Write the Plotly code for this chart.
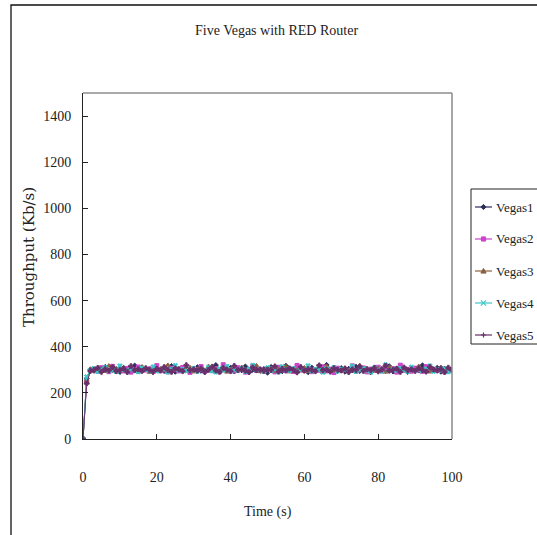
import plotly.graph_objects as go

# Throughput of five TCP Vegas flows sharing a RED router, sampled once per second
time_s = list(range(0, 101))

vegas1 = [
    0, 262, 301, 296, 305, 298, 312, 294, 300, 303,
    291, 308, 299, 296, 318, 293, 301, 304, 297, 290,
    310, 302, 295, 299, 316, 292, 303, 298, 306, 294,
    300, 311, 296, 289, 304, 299, 320, 295, 301, 297,
    308, 293, 302, 298, 314, 291, 300, 305, 296, 303,
    288, 312, 299, 301, 294, 317, 298, 302, 295, 306,
    300, 290, 309, 297, 303, 299, 321, 294, 300, 296,
    307, 292, 304, 298, 313, 295, 301, 299, 290, 310,
    297, 303, 296, 315, 293, 302, 298, 306, 291, 300,
    304, 297, 319, 294, 301, 299, 308, 292, 303, 296,
    300,
]
vegas2 = [
    0, 248, 297, 303, 294, 309, 299, 292, 315, 298,
    302, 295, 306, 290, 301, 312, 297, 299, 304, 293,
    318, 296, 300, 291, 307, 302, 295, 310, 298, 289,
    303, 299, 314, 294, 301, 296, 305, 292, 322, 298,
    300, 295, 309, 303, 290, 299, 316, 297, 302, 294,
    306, 298, 291, 311, 300, 296, 304, 293, 319, 299,
    297, 305, 292, 301, 298, 313, 295, 303, 288, 307,
    299, 302, 296, 317, 294, 300, 308, 291, 303, 298,
    311, 295, 301, 297, 305, 290, 320, 298, 302, 294,
    307, 299, 293, 314, 296, 301, 298, 305, 292, 302,
    299,
]
vegas3 = [
    0, 255, 304, 295, 300, 307, 293, 318, 297, 301,
    296, 310, 292, 303, 299, 294, 314, 300, 289, 305,
    298, 302, 297, 321, 293, 301, 306, 295, 299, 311,
    291, 304, 298, 300, 316, 294, 302, 297, 308, 290,
    303, 299, 295, 312, 301, 296, 304, 319, 292, 300,
    297, 307, 294, 302, 298, 315, 291, 303, 299, 296,
    310, 293, 301, 298, 305, 289, 317, 300, 296, 303,
    294, 309, 299, 301, 292, 320, 297, 304, 298, 295,
    306, 300, 290, 313, 296, 302, 299, 308, 293, 301,
    297, 316, 295, 303, 291, 305, 299, 312, 294, 300,
    302,
]
vegas4 = [
    0, 270, 298, 306, 293, 301, 310, 296, 299, 292,
    317, 300, 295, 303, 298, 291, 308, 302, 296, 313,
    294, 299, 305, 290, 301, 319, 297, 303, 295, 300,
    307, 293, 302, 298, 311, 296, 290, 304, 299, 315,
    295, 301, 297, 306, 292, 303, 320, 298, 300, 294,
    309, 296, 302, 291, 314, 299, 297, 305, 293, 301,
    298, 318, 295, 302, 300, 289, 306, 297, 311, 294,
    303, 299, 296, 316, 292, 301, 305, 298, 290, 309,
    300, 294, 322, 297, 303, 296, 307, 299, 292, 312,
    298, 301, 295, 304, 317, 293, 300, 297, 306, 291,
    301,
]
vegas5 = [
    0, 241, 295, 300, 308, 291, 303, 297, 311, 294,
    299, 305, 290, 316, 298, 302, 295, 307, 300, 293,
    304, 297, 312, 299, 291, 306, 301, 294, 320, 298,
    302, 296, 305, 293, 300, 313, 297, 291, 308, 301,
    294, 317, 299, 303, 296, 290, 310, 298, 302, 295,
    301, 299, 315, 292, 304, 297, 306, 300, 289, 312,
    296, 303, 299, 294, 319, 298, 301, 292, 307, 300,
    297, 305, 290, 302, 299, 314, 295, 303, 298, 308,
    293, 301, 318, 296, 300, 305, 291, 310, 298, 302,
    295, 306, 299, 292, 313, 301, 297, 304, 290, 309,
    298,
]

series_names = ["Vegas1", "Vegas2", "Vegas3", "Vegas4", "Vegas5"]
series_values = [vegas1, vegas2, vegas3, vegas4, vegas5]
series_colors = ["#2e2e5c", "#cc44cc", "#8a6040", "#3cc8c8", "#6a306a"]
series_symbols = ["diamond", "square", "triangle-up", "x", "cross"]

y_ticks = [0, 200, 400, 600, 800, 1000, 1200, 1400]
x_ticks = [0, 20, 40, 60, 80, 100]

SERIF = "Liberation Serif, Times New Roman, serif"
INK = "#222222"

fig = go.Figure()
for name, vals, color, sym in zip(series_names, series_values, series_colors, series_symbols):
    fig.add_trace(go.Scatter(
        x=time_s, y=vals, name=name, mode="lines+markers",
        line=dict(color=color, width=1),
        marker=dict(symbol=sym, size=4, color=color,
                    line=dict(color=color, width=1)),
        showlegend=False,
    ))

# plot area spans pixels x 83..452, y 93..439
W, H = 537, 535
L, R, T, B = 83, 85, 93, 96
pw, ph = W - L - R, H - T - B


def px_x(p):
    return (p - L) / pw


def px_y(p):
    return (H - B - p) / ph


def key_symbol(kind, cx, cy, color, r=2.6):
    """Small legend-key marker drawn as a paper-space path."""
    pts = {
        "diamond": [(0, -r), (r, 0), (0, r), (-r, 0)],
        "square": [(-r * 0.8, -r * 0.8), (r * 0.8, -r * 0.8), (r * 0.8, r * 0.8), (-r * 0.8, r * 0.8)],
        "triangle-up": [(0, -r), (r, r * 0.8), (-r, r * 0.8)],
    }
    if kind in pts:
        d = "M " + " L ".join(f"{px_x(cx + dx):.5f},{px_y(cy + dy):.5f}" for dx, dy in pts[kind]) + " Z"
        return dict(type="path", xref="paper", yref="paper", path=d,
                    fillcolor=color, line=dict(color=color, width=1))
    if kind == "x":
        segs = [((-r, -r), (r, r)), ((-r, r), (r, -r))]
    else:
        segs = [((0, -r), (0, r)), ((-r, 0), (r, 0))]
    d = " ".join(f"M {px_x(cx + a[0]):.5f},{px_y(cy + a[1]):.5f} L {px_x(cx + b[0]):.5f},{px_y(cy + b[1]):.5f}"
                 for a, b in segs)
    return dict(type="path", xref="paper", yref="paper", path=d,
                line=dict(color=color, width=1.2))


# legend box and entries (pixel layout)
LEG_LEFT, LEG_TOP, LEG_BOTTOM = 471, 189, 344
LEG_ROWS = [207, 239, 271, 303, 335]
KEY_X0, KEY_X1, TEXT_X = 475, 492, 494

shapes = [
    # outer chart frame
    dict(type="rect", xref="paper", yref="paper",
         x0=px_x(11), x1=px_x(700), y0=px_y(800), y1=px_y(5),
         line=dict(color="#111111", width=1.3), fillcolor="rgba(0,0,0,0)"),
    # top and right edges of the plot area
    dict(type="line", xref="paper", yref="paper", x0=0, x1=1, y0=1, y1=1,
         line=dict(color="#555555", width=1)),
    dict(type="line", xref="paper", yref="paper", x0=1, x1=1, y0=0, y1=1,
         line=dict(color="#8a8a8a", width=1.5)),
    # legend box
    dict(type="rect", xref="paper", yref="paper",
         x0=px_x(LEG_LEFT), x1=px_x(700), y0=px_y(LEG_BOTTOM), y1=px_y(LEG_TOP),
         line=dict(color=INK, width=1), fillcolor="white"),
]

annotations = [
    dict(text="Five Vegas with RED Router", xref="paper", yref="paper",
         x=px_x(276), y=px_y(31), xanchor="center", yanchor="middle",
         showarrow=False, font=dict(family=SERIF, size=14, color=INK)),
    dict(text="Time (s)", xref="paper", yref="paper",
         x=px_x(268), y=px_y(512), xanchor="center", yanchor="middle",
         showarrow=False, font=dict(family=SERIF, size=14, color=INK)),
    dict(text="Throughput (Kb/s)", xref="paper", yref="paper",
         x=px_x(29), y=px_y(257), xanchor="center", yanchor="middle",
         showarrow=False, textangle=-90,
         font=dict(family="DejaVu Serif, serif", size=15, color=INK)),
]

for name, color, sym, row_y in zip(series_names, series_colors, series_symbols, LEG_ROWS):
    shapes.append(dict(type="line", xref="paper", yref="paper",
                       x0=px_x(KEY_X0), x1=px_x(KEY_X1), y0=px_y(row_y), y1=px_y(row_y),
                       line=dict(color=color, width=1.2)))
    shapes.append(key_symbol(sym, (KEY_X0 + KEY_X1) / 2, row_y, color))
    annotations.append(dict(text=name, xref="paper", yref="paper",
                            x=px_x(TEXT_X), y=px_y(row_y), xanchor="left", yanchor="middle",
                            showarrow=False, font=dict(family=SERIF, size=13, color=INK)))

fig.update_layout(
    width=W, height=H,
    margin=dict(l=L, r=R, t=T, b=B, autoexpand=False),
    paper_bgcolor="white", plot_bgcolor="white",
    font=dict(family=SERIF, size=14, color=INK),
    showlegend=False,
    xaxis=dict(
        range=[0, 100], tickvals=x_ticks, ticks="inside", ticklen=5,
        tickcolor=INK, showline=True, linecolor=INK, linewidth=1,
        showgrid=False, zeroline=False, ticklabelstandoff=25,
        tickfont=dict(family=SERIF, size=14, color=INK),
    ),
    yaxis=dict(
        range=[0, 1500], tickvals=y_ticks, ticks="inside", ticklen=5,
        tickcolor=INK, showline=True, linecolor=INK, linewidth=1,
        showgrid=False, zeroline=False, ticklabelstandoff=8,
        tickfont=dict(family=SERIF, size=14, color=INK),
    ),
    annotations=annotations,
    shapes=shapes,
)

fig.write_html("out.html")
